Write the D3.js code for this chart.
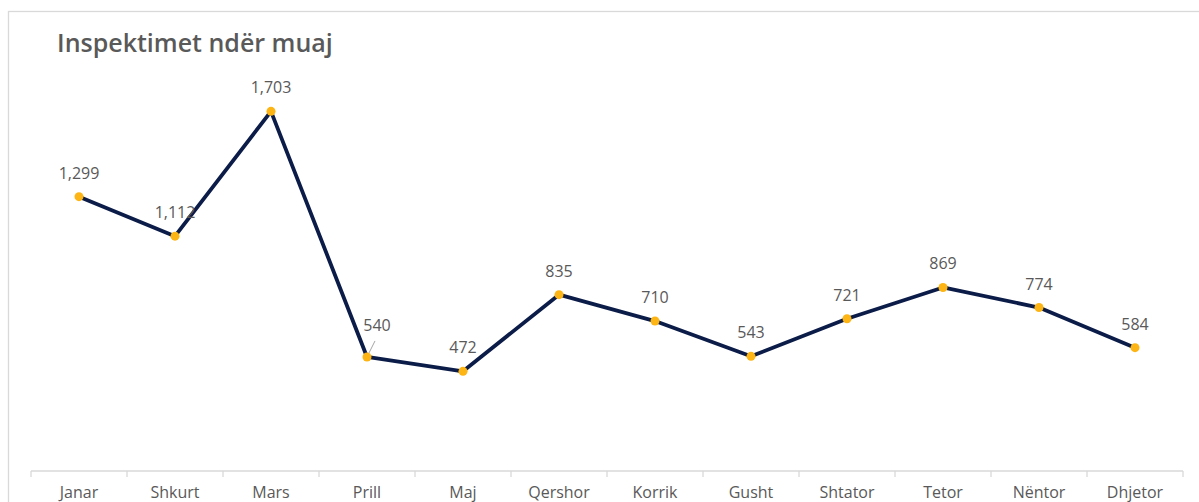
<!DOCTYPE html>
<html>
<head>
<meta charset="utf-8">
<script src="https://cdn.jsdelivr.net/npm/d3@7"></script>
<style>
  html, body { margin: 0; padding: 0; background: #fff; overflow: hidden; }
  svg { display: block; }
</style>
</head>
<body>
<div id="chart"></div>
<script>
// te dhenat
const months = ['Janar', 'Shkurt', 'Mars', 'Prill', 'Maj', 'Qershor', 'Korrik', 'Gusht', 'Shtator', 'Tetor', 'Nëntor', 'Dhjetor'];
const inspections = [1299, 1112, 1703, 540, 472, 835, 710, 543, 721, 869, 774, 584];
const yDomain = [0, 2000];

const width = 1199, height = 502;
const margin = { top: 49, left: 31, right: 16, bottom: 31 };

const svg = d3.select('#chart')
    .append('svg')
    .attr('width', width)
    .attr('height', height);

// cornize
svg.append('rect')
    .attr('x', 8.5).attr('y', 11.5)
    .attr('width', 1220).attr('height', 520)
    .style('fill', 'none')
    .style('stroke', '#d9d9d9')
    .style('stroke-width', 1.3);

svg.append('text')
    .attr('x', 57).attr('y', 52)
    .style('font-family', '"Open Sans", sans-serif')
    .style('font-weight', 600)
    .style('font-size', '25px')
    .style('fill', '#595959')
    .text('Inspektimet ndër muaj');

const x = d3.scaleBand()
    .domain(months)
    .range([margin.left, width - margin.right]);

const y = d3.scaleLinear()
    .domain(yDomain)
    .range([height - margin.bottom, height - margin.bottom - (yDomain[1] * 0.2112)]);

// boshti x
const axis = svg.append('g')
    .attr('transform', `translate(0,${y(0)})`);

axis.append('line')
    .attr('x1', x.range()[0]).attr('x2', x.range()[1])
    .style('stroke', '#d9d9d9').style('stroke-width', 1.3);

const bounds = months.map(m => x(m)).concat([x.range()[1]]);
axis.selectAll('line.tick')
    .data(bounds)
    .enter()
    .append('line')
    .attr('class', 'tick')
    .attr('x1', d => d).attr('x2', d => d)
    .attr('y1', 0).attr('y2', 6)
    .style('stroke', '#d9d9d9').style('stroke-width', 1.3);

axis.selectAll('text')
    .data(months)
    .enter()
    .append('text')
    .attr('x', d => x(d) + x.bandwidth() / 2)
    .attr('y', 27)
    .style('text-anchor', 'middle')
    .style('font-family', '"Open Sans", sans-serif')
    .style('font-size', '16px')
    .style('fill', '#595959')
    .text(d => d);

const pts = months.map((m, i) => ({ m, v: inspections[i] }));

svg.append('path')
    .datum(pts)
    .attr('d', d3.line()
        .x(d => x(d.m) + x.bandwidth() / 2)
        .y(d => y(d.v)))
    .style('fill', 'none')
    .style('stroke', '#0c1c48')
    .style('stroke-width', 3.8)
    .style('stroke-linejoin', 'round');

svg.append('g')
    .selectAll('circle')
    .data(pts)
    .enter()
    .append('circle')
    .attr('cx', d => x(d.m) + x.bandwidth() / 2)
    .attr('cy', d => y(d.v))
    .attr('r', 4.5)
    .style('fill', '#fdb515');

// etiketa per Prill eshte zhvendosur me vije udhezuese
const fmt = d3.format(',');
const offsets = { 'Prill': [10, -26] };

const pr = pts.find(d => d.m === 'Prill');
svg.append('line')
    .attr('x1', x(pr.m) + x.bandwidth() / 2 + 2)
    .attr('y1', y(pr.v) - 4)
    .attr('x2', x(pr.m) + x.bandwidth() / 2 + 8)
    .attr('y2', y(pr.v) - 16)
    .style('stroke', '#a6a6a6')
    .style('stroke-width', 1);

svg.append('g')
    .selectAll('text')
    .data(pts)
    .enter()
    .append('text')
    .attr('x', d => x(d.m) + x.bandwidth() / 2 + (offsets[d.m] ? offsets[d.m][0] : 0))
    .attr('y', d => y(d.v) + (offsets[d.m] ? offsets[d.m][1] : -18))
    .style('text-anchor', 'middle')
    .style('font-family', '"Open Sans", sans-serif')
    .style('font-size', '16px')
    .style('fill', '#595959')
    .text(d => fmt(d.v));
</script>
</body>
</html>
